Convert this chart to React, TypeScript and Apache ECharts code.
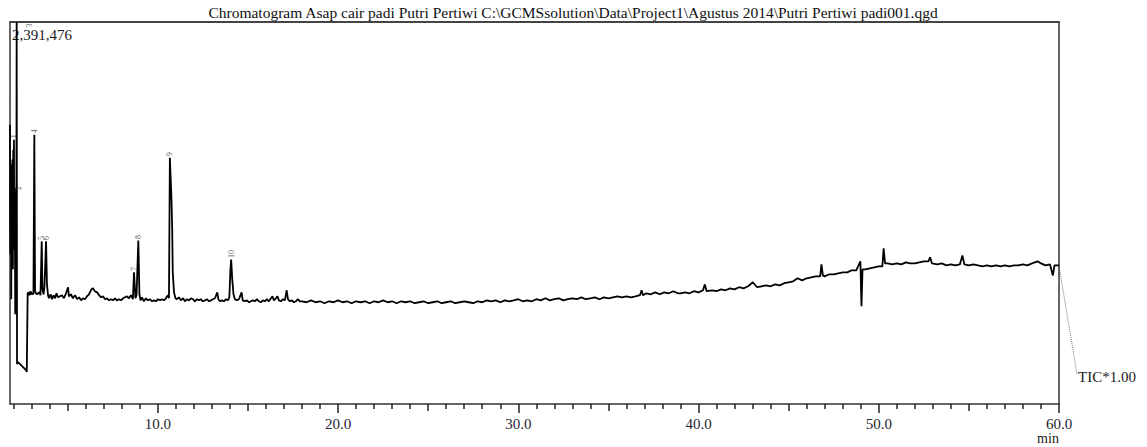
import React, { useEffect, useRef } from "react";
import * as echarts from "echarts";

// Retention time (min) / TIC intensity (counts)
const solventTrace: [number, number][] = [
  [1.80, 1748000], [1.81, 1100000], [1.82, 937000], [1.83, 1400000], [1.84, 1499000], [1.85, 1050000],
  [1.86, 1300000], [1.87, 656000], [1.88, 1200000], [1.89, 1436000], [1.90, 1000000], [1.91, 968000],
  [1.92, 1350000], [1.93, 1530000], [1.94, 1100000], [1.95, 1250000], [1.96, 843000], [1.97, 1300000],
  [1.98, 1592000], [1.99, 1150000], [2.00, 968000], [2.01, 1400000], [2.02, 1655000], [2.03, 1200000],
  [2.04, 1030000], [2.05, 1350000], [2.06, 1100000], [2.07, 1280000], [2.08, 900000], [2.09, 562000],
  [2.10, 1000000], [2.11, 1155000], [2.12, 1050000], [2.13, 1324000], [2.14, 1100000], [2.15, 968000],
  [2.17, 2391476], [2.19, 250000], [2.24, 262000], [2.36, 250000], [2.47, 237000], [2.58, 225000],
  [2.69, 212000], [2.73, 200000], [2.78, 693000],
];

const earlyTrace: [number, number][] = [
  [2.83, 699000], [2.88, 681000], [2.94, 706000], [2.99, 687000], [3.05, 693000], [3.10, 687000],
  [3.15, 1686000], [3.19, 706000], [3.24, 693000], [3.30, 687000], [3.35, 693000], [3.44, 699000],
  [3.49, 681000], [3.56, 1018000], [3.60, 718000], [3.66, 687000], [3.71, 731000], [3.80, 1018000],
  [3.85, 749000], [3.91, 681000], [3.96, 662000], [4.05, 687000], [4.13, 656000], [4.21, 681000],
  [4.30, 662000], [4.38, 693000], [4.46, 668000], [4.57, 674000],
];

const midTrace: [number, number][] = [
  [4.68, 681000], [4.79, 662000], [4.91, 693000], [5.02, 731000], [5.07, 674000], [5.18, 687000],
  [5.29, 662000], [5.41, 681000], [5.52, 656000], [5.63, 668000], [5.74, 649000], [5.85, 662000],
  [5.96, 656000], [6.07, 674000], [6.18, 687000], [6.32, 718000], [6.40, 724000], [6.51, 706000],
  [6.63, 699000], [6.74, 681000], [6.85, 668000], [6.96, 674000], [7.07, 656000], [7.18, 662000],
  [7.29, 649000], [7.40, 656000], [7.51, 649000], [7.62, 662000], [7.73, 649000], [7.85, 656000],
  [7.96, 649000], [8.07, 662000], [8.18, 668000], [8.29, 674000], [8.40, 662000], [8.51, 681000],
  [8.62, 656000], [8.68, 824000], [8.76, 662000], [8.82, 681000], [8.92, 1024000], [8.98, 687000],
  [9.04, 649000], [9.12, 668000], [9.23, 643000], [9.34, 662000], [9.45, 649000], [9.56, 656000],
  [9.68, 643000], [9.79, 649000], [9.90, 643000], [10.01, 656000], [10.12, 649000], [10.23, 656000],
  [10.34, 649000], [10.45, 662000], [10.56, 681000], [10.62, 662000], [10.67, 1542000], [10.76, 1280000],
  [10.80, 1093000], [10.83, 824000], [10.90, 699000], [10.98, 662000],
];

const laterTrace: [number, number][] = [
  [11.06, 656000], [11.17, 668000], [11.28, 649000], [11.40, 662000], [11.51, 643000], [11.62, 656000],
  [11.73, 649000], [11.84, 662000], [11.95, 656000], [12.06, 643000], [12.17, 656000], [12.28, 649000],
  [12.39, 656000], [12.50, 643000], [12.62, 649000], [12.73, 656000], [12.84, 643000], [12.95, 649000],
  [13.06, 656000], [13.17, 662000], [13.30, 699000], [13.36, 656000], [13.45, 643000], [13.56, 649000],
  [13.67, 643000], [13.78, 656000], [13.89, 649000], [13.97, 668000], [14.03, 843000], [14.07, 905000],
  [14.13, 780000], [14.20, 687000], [14.28, 656000], [14.39, 649000], [14.50, 656000], [14.65, 699000],
  [14.71, 649000], [14.83, 643000], [14.94, 649000], [15.06, 637000], [15.17, 643000], [15.28, 649000],
  [15.39, 643000], [15.50, 656000], [15.61, 643000], [15.72, 637000], [15.83, 649000], [15.94, 643000],
  [16.05, 656000], [16.16, 643000], [16.28, 662000], [16.36, 674000], [16.44, 649000], [16.55, 662000],
  [16.64, 674000], [16.72, 649000], [16.83, 643000], [16.94, 656000], [17.05, 649000], [17.15, 712000],
  [17.22, 656000], [17.33, 643000], [17.44, 649000], [17.55, 637000], [17.66, 643000], [17.77, 656000],
  [17.88, 643000],
];

const flatBaseline: [number, number][] = [
  [18.00, 643000], [18.25, 637000], [18.50, 649000], [18.75, 637000], [19.00, 643000], [19.25, 631000],
  [19.50, 643000], [19.75, 637000], [20.00, 649000], [20.25, 637000], [20.50, 643000], [20.75, 631000],
  [21.00, 643000], [21.25, 637000], [21.50, 643000], [21.75, 631000], [22.00, 643000], [22.25, 637000],
  [22.50, 649000], [22.75, 637000], [23.00, 643000], [23.25, 631000], [23.50, 643000], [23.75, 637000],
  [24.00, 643000], [24.25, 631000], [24.50, 637000], [24.75, 643000], [25.00, 631000], [25.25, 637000],
  [25.50, 643000], [25.75, 631000], [26.00, 637000], [26.25, 643000], [26.50, 631000], [26.75, 637000],
  [27.00, 643000], [27.25, 637000], [27.50, 631000], [27.75, 643000], [28.00, 637000], [28.25, 649000],
  [28.50, 643000], [28.75, 649000], [29.00, 637000], [29.25, 649000], [29.50, 643000], [29.75, 649000],
  [30.00, 656000], [30.25, 643000], [30.50, 649000], [30.75, 643000], [31.00, 656000], [31.25, 649000],
  [31.50, 662000], [31.75, 649000], [32.00, 656000], [32.25, 662000], [32.50, 649000], [32.75, 656000],
  [33.00, 662000], [33.25, 656000], [33.50, 668000], [33.75, 656000], [34.00, 662000], [34.25, 668000],
  [34.50, 656000], [34.75, 668000], [35.00, 662000], [35.25, 668000], [35.50, 674000], [35.75, 668000],
  [36.00, 674000], [36.25, 668000], [36.50, 674000], [36.75, 681000], [36.84, 712000], [36.92, 681000],
  [37.10, 693000], [37.35, 687000], [37.60, 699000], [37.85, 687000], [38.10, 699000], [38.35, 693000],
  [38.60, 706000], [38.85, 693000],
];

const risingBaseline: [number, number][] = [
  [39.00, 693000], [39.25, 699000], [39.50, 693000], [39.75, 706000], [40.00, 699000], [40.25, 712000],
  [40.35, 749000], [40.45, 706000], [40.75, 712000], [41.00, 706000], [41.25, 718000], [41.50, 712000],
  [41.75, 724000], [42.00, 718000], [42.25, 731000], [42.50, 724000], [42.75, 737000], [43.01, 762000],
  [43.25, 731000], [43.50, 737000], [43.75, 743000], [44.00, 737000], [44.25, 749000], [44.50, 743000],
  [44.75, 756000], [45.00, 762000], [45.25, 768000], [45.50, 787000], [45.75, 774000], [46.00, 787000],
  [46.25, 793000], [46.50, 799000], [46.75, 799000], [46.82, 874000], [46.90, 805000], [47.00, 799000],
  [47.25, 812000], [47.50, 812000], [47.75, 818000], [48.00, 824000], [48.25, 824000], [48.50, 837000],
  [48.75, 837000], [48.98, 893000], [49.04, 612000], [49.10, 843000], [49.25, 843000], [49.50, 849000],
  [49.75, 855000], [50.00, 862000], [50.20, 862000], [50.27, 974000], [50.35, 880000], [50.50, 880000],
  [50.75, 874000], [51.00, 880000], [51.25, 874000], [51.50, 887000], [51.75, 880000], [52.00, 880000],
  [52.25, 887000], [52.50, 893000], [52.75, 893000], [52.85, 918000], [52.95, 880000], [53.25, 874000],
  [53.50, 880000], [53.75, 868000], [54.00, 874000], [54.25, 868000], [54.50, 874000], [54.64, 930000],
  [54.75, 874000], [55.00, 868000], [55.25, 874000], [55.50, 868000], [55.75, 862000], [56.00, 868000],
  [56.25, 862000], [56.50, 868000], [56.75, 862000], [57.00, 868000], [57.25, 862000], [57.50, 868000],
  [57.75, 868000], [58.00, 874000], [58.25, 868000], [58.50, 880000], [58.82, 893000], [59.00, 880000],
  [59.25, 868000], [59.50, 874000], [59.66, 805000], [59.75, 868000], [60.00, 868000],
];

// Numbered peaks
const peakNumbers = [1, 2, 3, 4, 5, 6, 7, 8, 9, 10];
const peakTimes = [2.02, 2.13, 2.17, 3.15, 3.56, 3.80, 8.68, 8.92, 10.67, 14.07];
const peakHeights = [1655000, 1324000, 2391476, 1686000, 1018000, 1018000, 824000, 1024000, 1542000, 905000];

// Axis
const timeMin = 1.8;
const timeMax = 60;
const intensityMax = 2391476;
const labelTimes = [10, 20, 30, 40, 50, 60];
const midTickTimes = [5, 15, 25, 35, 45, 55];
const minorTickTimes = [
  2, 3, 4, 6, 7, 8, 9, 11, 12, 13, 14, 16, 17, 18, 19, 21, 22, 23, 24, 26, 27, 28, 29, 31, 32, 33, 34,
  36, 37, 38, 39, 41, 42, 43, 44, 46, 47, 48, 49, 51, 52, 53, 54, 56, 57, 58, 59,
];

const titleText =
  "Chromatogram Asap cair padi Putri Pertiwi C:\\GCMSsolution\\Data\\Project1\\Agustus 2014\\Putri Pertiwi padi001.qgd";

const SERIF = "Liberation Serif";

export default function App() {
  const ref = useRef<HTMLDivElement>(null);

  useEffect(() => {
    if (!ref.current) return;
    const chart = echarts.init(ref.current, null, { renderer: "svg" });
    const trace = [
      ...solventTrace,
      ...earlyTrace,
      ...midTrace,
      ...laterTrace,
      ...flatBaseline,
      ...risingBaseline,
    ];
    const hiddenAxisBase = {
      type: "value" as const,
      min: timeMin,
      max: timeMax,
      gridIndex: 0,
      position: "bottom" as const,
      axisLine: { show: false },
      axisLabel: { show: false },
      splitLine: { show: false },
    };
    chart.setOption({
      animation: false,
      backgroundColor: "#ffffff",
      textStyle: { fontFamily: SERIF },
      grid: { left: 10, right: 88, top: 22, bottom: 43, containLabel: false },
      xAxis: [
        {
          type: "value",
          min: timeMin,
          max: timeMax,
          position: "bottom",
          axisLine: { show: true, onZero: false, lineStyle: { color: "#333", width: 1.5 } },
          axisTick: { show: true, customValues: labelTimes, length: 9, lineStyle: { color: "#222", width: 1.5 } },
          axisLabel: {
            show: true,
            customValues: labelTimes,
            formatter: (v: number) => v.toFixed(1),
            fontFamily: SERIF,
            fontSize: 15,
            color: "#23232f",
            margin: 12,
          },
          splitLine: { show: false },
        },
        {
          ...hiddenAxisBase,
          axisTick: { show: true, customValues: midTickTimes, length: 7, lineStyle: { color: "#222", width: 1.5 } },
        },
        {
          ...hiddenAxisBase,
          axisTick: { show: true, customValues: minorTickTimes, length: 5, lineStyle: { color: "#222", width: 1.5 } },
        },
        {
          type: "value",
          min: timeMin,
          max: timeMax,
          position: "top",
          axisLine: { show: true, onZero: false, lineStyle: { color: "#444", width: 2 } },
          axisTick: { show: false },
          axisLabel: { show: false },
          splitLine: { show: false },
        },
      ],
      yAxis: [
        {
          type: "value",
          min: 0,
          max: intensityMax,
          position: "left",
          axisLine: { show: true, onZero: false, lineStyle: { color: "#333", width: 1.5 } },
          axisTick: { show: false },
          axisLabel: { show: false },
          splitLine: { show: false },
        },
        {
          type: "value",
          min: 0,
          max: intensityMax,
          position: "right",
          axisLine: { show: true, onZero: false, lineStyle: { color: "#333", width: 1.5 } },
          axisTick: { show: false },
          axisLabel: { show: false },
          splitLine: { show: false },
        },
      ],
      series: [
        {
          type: "line",
          name: "TIC",
          xAxisIndex: 0,
          yAxisIndex: 0,
          data: trace,
          showSymbol: false,
          symbol: "none",
          clip: true,
          lineStyle: { color: "#000", width: 1.8 },
        },
        {
          type: "scatter",
          name: "peaks",
          xAxisIndex: 0,
          yAxisIndex: 0,
          symbolSize: 1,
          itemStyle: { color: "rgba(0,0,0,0)" },
          clip: false,
          data: peakNumbers.map((n, i) => {
            const item: any = { name: String(n), value: [peakTimes[i], peakHeights[i]] };
            if (n === 3) {
              item.label = { position: [13, 2], align: "right" };
            } else if (n === 2) {
              item.label = { position: [3, -2] };
            }
            return item;
          }),
          label: {
            show: true,
            formatter: "{b}",
            position: "top",
            distance: 1,
            rotate: 90,
            align: "left",
            verticalAlign: "middle",
            fontFamily: SERIF,
            fontSize: 8,
            color: "#333",
          },
        },
      ],
      graphic: [
        {
          type: "text",
          left: "center",
          top: 4,
          style: { text: titleText, font: `15.5px ${SERIF}`, fill: "#111" },
        },
        {
          type: "text",
          x: 12,
          y: 27,
          style: { text: "2,391,476", font: `15px ${SERIF}`, fill: "#1a1a1a" },
        },
        {
          type: "line",
          shape: { x1: 1059, y1: 266, x2: 1077, y2: 374 },
          style: { stroke: "#777", lineWidth: 1, lineDash: [1, 1] },
        },
        {
          type: "text",
          x: 1078,
          y: 377,
          style: { text: "TIC*1.00", font: `15px ${SERIF}`, fill: "#1a1a1a", verticalAlign: "middle" },
        },
        {
          type: "text",
          x: 1048,
          y: 431,
          style: { text: "min", font: `14px ${SERIF}`, fill: "#1a1a1a", align: "center" },
        },
      ],
    });
    return () => chart.dispose();
  }, []);

  return (
    <div
      ref={ref}
      style={{ position: "fixed", left: 0, top: 0, width: 1147, height: 447, background: "#fff" }}
    />
  );
}
